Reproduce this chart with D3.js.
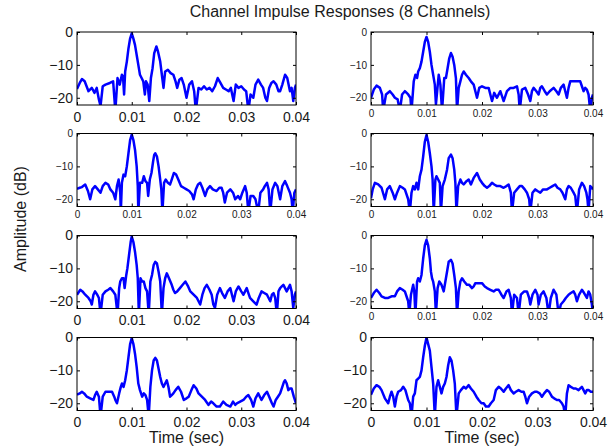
<!DOCTYPE html>
<html>
<head>
<meta charset="utf-8">
<script src="https://cdn.jsdelivr.net/npm/d3@7"></script>
<style>
  body { margin: 0; background: #fff; }
  text { font-family: "Liberation Sans", Arial, Helvetica, sans-serif; fill: #1a1a1a; }
</style>
</head>
<body>
<div id="chart"></div>
<script>
// Channel impulse responses, 8 channels, [time (s), amplitude (dB)]
const ch1 = [[0,-17.3],[0.0005,-15.5],[0.0009,-14.3],[0.0014,-15],[0.0021,-18],[0.0027,-17],[0.0032,-18.5],[0.0036,-17],[0.004,-20.5],[0.0043,-22.5],[0.0047,-16.5],[0.0052,-16],[0.006,-15.5],[0.0066,-15],[0.007,-24],[0.0074,-14],[0.0078,-16],[0.0082,-13],[0.0084,-13.5],[0.0086,-19],[0.0088,-12],[0.0091,-9],[0.0094,-5],[0.0097,-2],[0.01,-0.4],[0.0103,-2],[0.0106,-4],[0.0109,-7],[0.0112,-10],[0.0115,-13],[0.0118,-14],[0.0121,-15],[0.0124,-19],[0.0126,-15],[0.0129,-16],[0.0132,-21],[0.0135,-14],[0.0138,-11],[0.0141,-6.5],[0.0145,-4.4],[0.0148,-6],[0.0152,-9],[0.0155,-13],[0.0158,-17],[0.0161,-12],[0.0166,-11.5],[0.0171,-12.5],[0.0176,-13],[0.018,-15],[0.0183,-17],[0.0187,-14.5],[0.0191,-14],[0.0195,-16],[0.02,-20],[0.0205,-16],[0.021,-15],[0.0214,-18],[0.0217,-24],[0.0222,-17],[0.0227,-17.5],[0.0232,-16.5],[0.0237,-17.5],[0.0242,-17],[0.0247,-18],[0.0252,-16.5],[0.0257,-14],[0.0262,-15.5],[0.0267,-17],[0.0272,-17.5],[0.0277,-18],[0.0281,-17],[0.0286,-21],[0.029,-16],[0.0295,-17],[0.03,-16.5],[0.0305,-17.5],[0.0309,-18],[0.0313,-24],[0.0317,-19],[0.0322,-20],[0.0326,-16],[0.0331,-14.5],[0.0336,-16],[0.034,-17],[0.0344,-20],[0.0347,-21],[0.0351,-17],[0.0355,-15.5],[0.0359,-15],[0.0364,-16],[0.0368,-18],[0.0371,-18],[0.0375,-16],[0.038,-13],[0.0384,-14],[0.0389,-18],[0.0392,-17],[0.0395,-21],[0.0398,-17],[0.04,-16]];
const ch2 = [[0,-20],[0.0005,-17.5],[0.001,-16.3],[0.0016,-17],[0.002,-19],[0.0022,-24],[0.0027,-19],[0.0034,-18],[0.0039,-19],[0.0043,-20],[0.0048,-20.5],[0.0052,-24],[0.0056,-19],[0.0061,-18],[0.0067,-19],[0.0071,-20],[0.0073,-24],[0.0077,-15],[0.008,-13],[0.0083,-14],[0.0085,-12],[0.0088,-11],[0.0091,-9],[0.0094,-6],[0.0097,-3],[0.01,-1.5],[0.0103,-3],[0.0106,-6],[0.0109,-10],[0.0112,-13],[0.0115,-16],[0.0117,-22],[0.0122,-13],[0.0125,-16],[0.0128,-24],[0.0132,-14],[0.0135,-14],[0.0138,-11],[0.0141,-8],[0.0144,-6.4],[0.0147,-7.5],[0.015,-10],[0.0153,-14],[0.0155,-24],[0.0158,-17],[0.0161,-15],[0.0164,-13],[0.0167,-12],[0.0171,-13],[0.0176,-14],[0.018,-15],[0.0185,-16],[0.0188,-18],[0.0191,-20],[0.0195,-17],[0.02,-16.5],[0.0206,-17],[0.0212,-17],[0.0215,-19],[0.0218,-21],[0.0222,-18.5],[0.0227,-20],[0.0233,-18],[0.0239,-21],[0.0245,-18],[0.0251,-17],[0.0257,-17],[0.0263,-16.5],[0.0266,-19],[0.0268,-24],[0.0272,-17.5],[0.0278,-17],[0.0283,-19],[0.0287,-21],[0.029,-18],[0.0293,-17],[0.0298,-18],[0.0302,-19],[0.0305,-17],[0.0308,-16.5],[0.0313,-18],[0.0317,-19],[0.0322,-18],[0.0329,-17],[0.0334,-18],[0.0338,-19],[0.0342,-17],[0.0347,-16],[0.035,-18],[0.0353,-20],[0.0356,-17],[0.0359,-15],[0.0365,-15],[0.0371,-15],[0.0377,-15],[0.038,-16.5],[0.0383,-18],[0.0386,-17],[0.0389,-17.5],[0.0392,-19],[0.0395,-24],[0.0398,-20],[0.04,-19]];
const ch3 = [[0,-16.8],[0.0005,-16.5],[0.0009,-16.3],[0.0015,-15.5],[0.002,-17.5],[0.0024,-20],[0.0028,-17],[0.0033,-16],[0.0038,-17],[0.0043,-18],[0.0047,-16],[0.0052,-15],[0.0057,-15.5],[0.0061,-17],[0.0066,-18],[0.007,-20],[0.0073,-16],[0.0076,-14],[0.0079,-18],[0.008,-24],[0.0082,-15],[0.0085,-12.5],[0.0088,-13],[0.0091,-10],[0.0094,-6],[0.0097,-2],[0.01,-0.3],[0.0103,-2],[0.0106,-5],[0.0109,-10],[0.0111,-16],[0.0112,-24],[0.0115,-15],[0.0119,-15],[0.0122,-13],[0.0125,-14.5],[0.0128,-15],[0.013,-19],[0.0133,-14],[0.0136,-12],[0.0139,-8.5],[0.0141,-6.5],[0.0143,-6],[0.0146,-7],[0.0149,-10],[0.0152,-14],[0.0154,-17],[0.0156,-24],[0.0159,-15],[0.0162,-14],[0.0166,-15],[0.017,-15.5],[0.0173,-14],[0.0177,-12],[0.0181,-12.5],[0.0185,-14],[0.019,-16],[0.0195,-16.5],[0.02,-17],[0.0205,-17.5],[0.021,-18.5],[0.0213,-20],[0.0217,-17],[0.0221,-15.5],[0.0225,-15],[0.0229,-16.5],[0.0234,-19],[0.0238,-17],[0.0243,-16],[0.0248,-17],[0.0255,-17.5],[0.026,-16.5],[0.0264,-16.5],[0.0267,-18],[0.027,-21],[0.0274,-18],[0.028,-17],[0.0285,-18],[0.0289,-20],[0.0294,-19],[0.0298,-20],[0.0302,-18],[0.0307,-16],[0.031,-18],[0.0313,-24],[0.0317,-19],[0.0322,-19],[0.0326,-20],[0.0331,-24],[0.0335,-18],[0.034,-17],[0.0343,-16],[0.0347,-15],[0.035,-17],[0.0353,-24],[0.0357,-17],[0.0362,-15],[0.0366,-16],[0.0371,-20],[0.0375,-16],[0.038,-14.5],[0.0384,-16],[0.0389,-18],[0.0392,-20],[0.0394,-24],[0.0397,-18],[0.04,-17]];
const ch4 = [[0,-19.7],[0.0003,-17],[0.0007,-15],[0.0013,-15.5],[0.0019,-16.5],[0.0025,-20],[0.0029,-17],[0.0034,-16],[0.0039,-18],[0.0043,-20],[0.0047,-18],[0.0052,-16],[0.0057,-16.5],[0.0061,-17],[0.0067,-20],[0.007,-24],[0.0073,-18],[0.0076,-16],[0.0079,-17],[0.0082,-15],[0.0085,-17],[0.0088,-13],[0.0091,-11],[0.0094,-7],[0.0097,-2.5],[0.01,-0.5],[0.0103,-2.5],[0.0106,-6],[0.0109,-10],[0.0111,-14],[0.0113,-24],[0.0116,-14],[0.0118,-13],[0.0121,-14],[0.0124,-15],[0.0126,-24],[0.0129,-16],[0.0133,-14],[0.0137,-11],[0.014,-7.5],[0.0144,-6.4],[0.0147,-7.5],[0.015,-11],[0.0152,-15],[0.0154,-24],[0.0157,-16],[0.0161,-14],[0.0164,-15],[0.0167,-15.5],[0.0172,-14.5],[0.0176,-14],[0.018,-15.5],[0.0185,-13.5],[0.0191,-12],[0.0196,-14],[0.02,-15],[0.0205,-16],[0.0209,-16.5],[0.0213,-16],[0.0218,-15],[0.0222,-15.5],[0.0227,-16],[0.0233,-16],[0.0239,-16.5],[0.0244,-16],[0.0248,-15.5],[0.0252,-18],[0.0254,-24],[0.0258,-18],[0.0263,-17],[0.0268,-16],[0.0272,-16],[0.0277,-17],[0.0281,-18],[0.0285,-20],[0.0287,-24],[0.0291,-18],[0.0296,-17],[0.03,-17.5],[0.0305,-18],[0.031,-17],[0.0317,-17],[0.0322,-16.5],[0.0327,-16],[0.0332,-15.5],[0.0336,-16.5],[0.0341,-17],[0.0345,-18],[0.035,-20],[0.0353,-17],[0.0356,-16],[0.036,-16.5],[0.0365,-18],[0.0368,-19],[0.0371,-24],[0.0375,-17],[0.038,-15],[0.0384,-16],[0.0388,-18],[0.039,-20],[0.0392,-24],[0.0395,-16],[0.0398,-16.5],[0.04,-17]];
const ch5 = [[0,-18],[0.0006,-16.5],[0.001,-17],[0.0015,-18],[0.0021,-19],[0.0025,-20],[0.0027,-21],[0.003,-18],[0.0033,-17],[0.0037,-18],[0.004,-19],[0.0043,-24],[0.0047,-18],[0.0052,-17],[0.0057,-16.5],[0.0061,-16],[0.0066,-17],[0.007,-18],[0.0074,-24],[0.0077,-16],[0.0079,-14],[0.0082,-13],[0.0085,-13],[0.0087,-16],[0.009,-12],[0.0092,-10],[0.0095,-6],[0.0098,-2],[0.01,-0.3],[0.0103,-2],[0.0106,-5],[0.0109,-9],[0.0111,-13],[0.0113,-24],[0.0116,-13],[0.0119,-14],[0.0122,-14],[0.0125,-16],[0.0128,-17],[0.0131,-24],[0.0134,-14],[0.0137,-12],[0.014,-9],[0.0143,-8],[0.0146,-8.5],[0.0149,-11],[0.0152,-14],[0.0155,-24],[0.0158,-16],[0.0161,-13],[0.0164,-11.5],[0.0168,-13],[0.0173,-15],[0.0176,-16.5],[0.0179,-17.5],[0.0183,-17],[0.0188,-16],[0.0193,-15],[0.0198,-14],[0.0203,-15.5],[0.0207,-17],[0.0213,-18],[0.0219,-19],[0.0222,-20],[0.0225,-21],[0.0229,-18],[0.0233,-16],[0.0237,-15],[0.0242,-16.5],[0.0246,-18],[0.0249,-21],[0.0252,-22],[0.0256,-18],[0.0261,-16],[0.0265,-17.5],[0.027,-19],[0.0275,-17],[0.028,-16],[0.0283,-18],[0.0286,-20],[0.029,-17],[0.0295,-15.5],[0.03,-17],[0.0304,-18],[0.0307,-17],[0.031,-16],[0.0313,-17.5],[0.0316,-19],[0.0322,-20],[0.0328,-21],[0.0332,-19],[0.0337,-17],[0.0342,-17.5],[0.0347,-18],[0.0353,-20],[0.0356,-18],[0.0359,-17.5],[0.0362,-19],[0.0365,-24],[0.0368,-17],[0.0371,-16],[0.0374,-15.5],[0.0377,-15],[0.038,-16],[0.0383,-17],[0.0386,-16],[0.0389,-15],[0.0392,-17],[0.0395,-22],[0.0398,-18],[0.04,-17]];
const ch6 = [[0,-19],[0.0005,-17.5],[0.001,-16.5],[0.0015,-17.5],[0.0019,-18.5],[0.0025,-19],[0.0031,-19],[0.0037,-18.5],[0.0043,-18.5],[0.0047,-17],[0.0052,-16],[0.0057,-16.5],[0.0061,-17],[0.0065,-19],[0.0067,-20],[0.0069,-24],[0.0072,-18],[0.0076,-15],[0.0078,-17],[0.008,-24],[0.0083,-14],[0.0085,-13],[0.0088,-14],[0.0091,-12],[0.0094,-7],[0.0097,-3],[0.01,-1.3],[0.0103,-3],[0.0106,-7],[0.0108,-11],[0.011,-13],[0.0112,-14],[0.0115,-17],[0.0117,-24],[0.012,-16],[0.0123,-14],[0.0127,-15],[0.0131,-17],[0.0134,-14],[0.0137,-11],[0.014,-8],[0.0144,-7.4],[0.0147,-8.5],[0.015,-12],[0.0153,-16],[0.0155,-24],[0.0158,-17],[0.0161,-14],[0.0164,-13],[0.0168,-14],[0.0173,-15],[0.0177,-15],[0.0182,-16],[0.0185,-15.5],[0.0188,-14.5],[0.0194,-14.5],[0.02,-14.5],[0.0205,-15.5],[0.0209,-16],[0.0215,-16.5],[0.0221,-17],[0.0225,-16.5],[0.023,-16.5],[0.0235,-18],[0.0239,-19],[0.0244,-17],[0.0248,-16.5],[0.0252,-19],[0.0254,-24],[0.0258,-18],[0.0263,-19],[0.0266,-24],[0.027,-18],[0.0276,-17],[0.0281,-17],[0.0285,-19],[0.0287,-21],[0.0291,-18],[0.0296,-16.5],[0.03,-18],[0.0302,-21],[0.0306,-18],[0.0311,-17],[0.0316,-19],[0.032,-24],[0.0324,-19],[0.0329,-16.5],[0.0334,-18],[0.0338,-24],[0.0342,-21],[0.0347,-20],[0.0351,-19],[0.0356,-18],[0.036,-17.5],[0.0365,-17],[0.0368,-18],[0.0371,-20],[0.0375,-18],[0.038,-16.5],[0.0384,-17.5],[0.0389,-19],[0.0392,-17],[0.0395,-18],[0.0398,-21],[0.04,-24]];
const ch7 = [[0,-17.4],[0.0005,-17],[0.0009,-16.5],[0.0013,-17],[0.0018,-18],[0.0024,-18.5],[0.003,-19],[0.0033,-17.5],[0.0036,-16.5],[0.004,-18],[0.0043,-24],[0.0047,-18],[0.0052,-16.5],[0.0058,-16.5],[0.0064,-16.5],[0.0068,-18],[0.007,-19],[0.0073,-20],[0.0077,-17],[0.008,-15],[0.0082,-14],[0.0085,-15],[0.0088,-13],[0.0091,-10],[0.0094,-6],[0.0097,-2],[0.01,-0.2],[0.0103,-2],[0.0106,-5],[0.0109,-9],[0.0112,-14],[0.0115,-16],[0.0119,-18],[0.0122,-17],[0.0125,-17.5],[0.0128,-19],[0.0131,-24],[0.0134,-15],[0.0137,-10],[0.014,-7],[0.0143,-6.2],[0.0146,-7],[0.0149,-9.5],[0.0152,-12],[0.0155,-14],[0.0158,-15],[0.0161,-14],[0.0164,-13],[0.0167,-15],[0.017,-18],[0.0173,-17.5],[0.0176,-17],[0.018,-16],[0.0185,-15],[0.019,-16.5],[0.0195,-19],[0.02,-18.5],[0.0204,-18],[0.0209,-16],[0.0213,-14.5],[0.0218,-15.5],[0.0222,-17],[0.0228,-18],[0.0234,-19],[0.024,-20.5],[0.0245,-19.5],[0.0249,-20],[0.0255,-21],[0.0261,-21],[0.0267,-19.5],[0.0273,-20.5],[0.028,-21],[0.0285,-19.5],[0.0289,-20.5],[0.0292,-20],[0.0298,-19.5],[0.0304,-19],[0.0309,-18],[0.0313,-17.5],[0.0318,-19],[0.0322,-21],[0.0326,-18.5],[0.0331,-17],[0.0334,-18],[0.0337,-19],[0.0342,-17.5],[0.0347,-16.5],[0.0351,-18],[0.0356,-20],[0.0359,-21],[0.0363,-19],[0.0367,-18],[0.0371,-17],[0.0375,-15],[0.0378,-13.5],[0.038,-13],[0.0383,-14],[0.0386,-16],[0.0389,-15.5],[0.0392,-15.5],[0.0396,-18],[0.04,-20]];
const ch8 = [[0,-17.4],[0.0005,-15.5],[0.001,-14.5],[0.0015,-15],[0.0019,-16],[0.0025,-18.5],[0.0031,-20],[0.0034,-18],[0.0037,-16.5],[0.004,-18],[0.0043,-21],[0.0046,-18],[0.0049,-16.5],[0.0054,-16],[0.0058,-15],[0.0062,-16],[0.0067,-19],[0.007,-20],[0.0073,-24],[0.0076,-18],[0.0079,-17],[0.0082,-13],[0.0085,-12.5],[0.0088,-12],[0.0091,-10],[0.0094,-6],[0.0097,-2.5],[0.01,0],[0.0103,-2],[0.0106,-4],[0.0109,-9],[0.0112,-14],[0.0115,-24],[0.0118,-15],[0.0121,-13],[0.0124,-15],[0.0127,-17],[0.013,-15],[0.0133,-14],[0.0136,-12],[0.0139,-8.5],[0.0142,-6],[0.0145,-7],[0.0148,-10],[0.0151,-14],[0.0154,-24],[0.0158,-17],[0.0162,-16],[0.0167,-15],[0.0171,-15.5],[0.0176,-14.5],[0.018,-15.5],[0.0185,-16.5],[0.019,-18],[0.0194,-19],[0.0199,-20],[0.0203,-20],[0.0207,-21],[0.0212,-21],[0.0216,-20],[0.0221,-19],[0.0225,-16],[0.023,-15],[0.0234,-15.5],[0.0239,-16.5],[0.0243,-15.5],[0.0248,-14.5],[0.0252,-16],[0.0257,-17],[0.0261,-16.5],[0.0266,-16],[0.0271,-16.5],[0.0275,-16.5],[0.0278,-18],[0.0281,-20],[0.0285,-18],[0.029,-17],[0.0295,-16.5],[0.0299,-16.5],[0.0304,-17],[0.0308,-18],[0.0312,-17],[0.0317,-16],[0.0321,-16.5],[0.0326,-18],[0.033,-18.5],[0.0335,-19],[0.0339,-19],[0.0344,-20],[0.0347,-21],[0.035,-24],[0.0353,-17],[0.0356,-14.5],[0.036,-15],[0.0365,-15.5],[0.0369,-15.5],[0.0374,-16],[0.0377,-15.5],[0.038,-15],[0.0383,-16],[0.0386,-17],[0.0389,-16],[0.0392,-16],[0.0396,-16.5],[0.04,-16.5]];

const channels = [ch1, ch2, ch3, ch4, ch5, ch6, ch7, ch8];
const xTicks = [0, 0.01, 0.02, 0.03, 0.04];
const yTicks = [-20, -10, 0];

// layout (matches the 4x2 subplot grid)
const W = 609, H = 446;
const colX = [[77, 296], [371, 593]];
const rowTop = [32, 133.5, 235.5, 337.5];
const panelH = 73;
// panels whose tick labels are drawn with the large font
const bigLabels = [true, false, false, false, true, false, true, true];

const svg = d3.select('#chart')
    .append('svg')
    .attr('width', W)
    .attr('height', H);

const xFmt = d => d === 0 ? '0' : d3.format('.2f')(d);

channels.forEach((data, i) => {
    const row = Math.floor(i / 2);
    const col = i % 2;
    const [x0, x1] = colX[col];
    const y0 = rowTop[row];
    const w = x1 - x0;
    const big = bigLabels[i];
    const fs = big ? 14 : 10;

    const x = d3.scaleLinear().domain([0, 0.04]).range([0, w]);
    const y = d3.scaleLinear().domain([-22.2, 0]).range([panelH, 0]);

    const g = svg.append('g').attr('transform', `translate(${x0},${y0})`);

    g.append('clipPath')
        .attr('id', 'clip' + i)
        .append('rect')
        .attr('width', w)
        .attr('height', panelH);

    const line = d3.line()
        .x(d => x(d[0]))
        .y(d => y(d[1]));

    g.append('path')
        .datum(data)
        .attr('clip-path', `url(#clip${i})`)
        .attr('fill', 'none')
        .attr('stroke', '#0000ff')
        .attr('stroke-width', 2.5)
        .attr('stroke-linejoin', 'round')
        .attr('d', line);

    // axes with inward ticks
    const bottom = g.append('g')
        .attr('transform', `translate(0,${panelH})`)
        .call(d3.axisBottom(x).tickValues(xTicks).tickFormat(xFmt)
            .tickSizeInner(-3).tickSizeOuter(0).tickPadding(big ? 7 : 4.5));
    const left = g.append('g')
        .call(d3.axisLeft(y).tickValues(yTicks).tickFormat(d3.format('d'))
            .tickSizeInner(-3).tickSizeOuter(0).tickPadding(4));
    g.append('g')
        .call(d3.axisTop(x).tickValues(xTicks).tickFormat('')
            .tickSizeInner(-3).tickSizeOuter(0));
    g.append('g')
        .attr('transform', `translate(${w},0)`)
        .call(d3.axisRight(y).tickValues(yTicks).tickFormat('')
            .tickSizeInner(-3).tickSizeOuter(0));

    g.selectAll('.domain').remove();
    g.selectAll('.tick line').attr('stroke', '#000');
    [bottom, left].forEach(a => a.selectAll('text')
        .style('font-size', fs + 'px')
        .style('font-family', '"Liberation Sans", Arial, sans-serif')
        .attr('fill', '#1a1a1a'));

    g.append('rect')
        .attr('width', w)
        .attr('height', panelH)
        .attr('fill', 'none')
        .attr('stroke', '#000')
        .attr('stroke-width', 1);

    if (row === 3) {
        g.append('text')
            .attr('x', w / 2)
            .attr('y', panelH + 32.5)
            .attr('text-anchor', 'middle')
            .style('font-size', '16px')
            .text('Time (sec)');
    }
});

// title and y label
svg.append('text')
    .attr('x', 340)
    .attr('y', 17)
    .attr('text-anchor', 'middle')
    .style('font-size', '16px')
    .text('Channel Impulse Responses (8 Channels)');

svg.append('text')
    .attr('transform', 'translate(26,219) rotate(-90)')
    .attr('text-anchor', 'middle')
    .style('font-size', '16px')
    .text('Amplitude (dB)');
</script>
</body>
</html>
